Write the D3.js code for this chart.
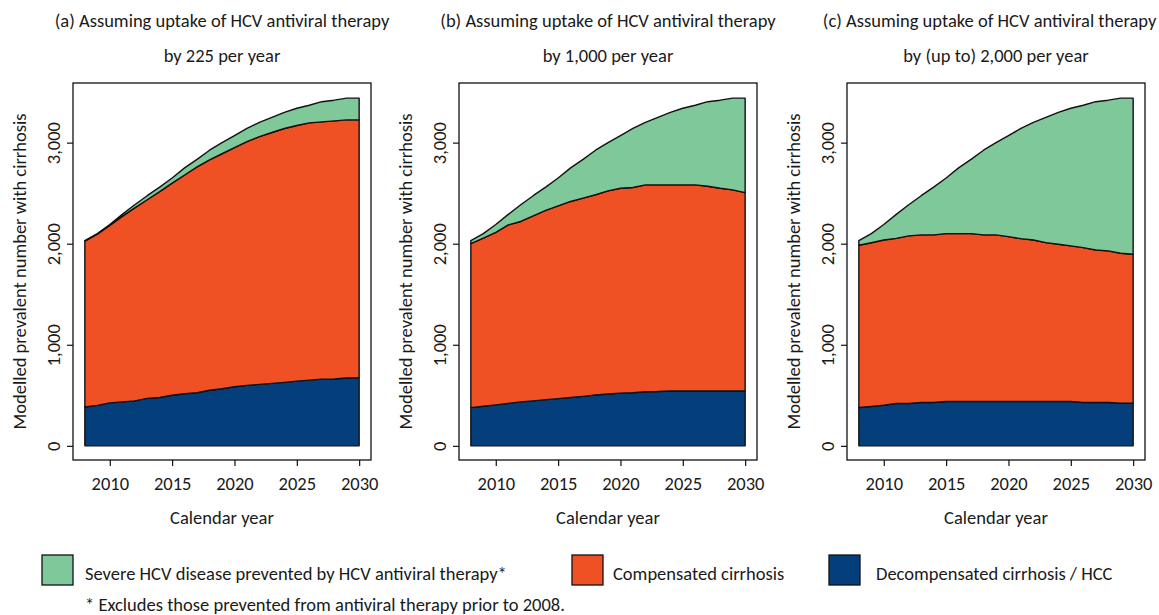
<!DOCTYPE html>
<html>
<head>
<meta charset="utf-8">
<script src="https://cdn.jsdelivr.net/npm/d3@7"></script>
<style>
  body { margin: 0; background: #fff; }
  svg text { font-family: Carlito, Lato, "Open Sans", sans-serif; fill: #1a1a1a; }
</style>
</head>
<body>
<svg width="1159" height="615"></svg>
<script>
(function (d3) {
  "use strict";

  const years = [2008, 2009, 2010, 2011, 2012, 2013, 2014, 2015, 2016, 2017, 2018, 2019,
    2020, 2021, 2022, 2023, 2024, 2025, 2026, 2027, 2028, 2029, 2030];

  const seriesNames = [
    "Decompensated cirrhosis / HCC",
    "Compensated cirrhosis",
    "Severe HCV disease prevented by HCV antiviral therapy*",
  ];
  const legendOrder = [2, 1, 0];
  const colours = ["#043f7b", "#ef5124", "#7fc899"];

  // (a) 225 per year
  const decompA = [385, 400, 425, 435, 445, 470, 478, 500, 515, 525, 550, 565, 585, 598, 608, 618, 628, 640, 650, 660, 662, 672, 675];
  const compA = [1640, 1695, 1755, 1835, 1910, 1965, 2037, 2100, 2165, 2235, 2280, 2325, 2365, 2412, 2452, 2482, 2512, 2530, 2545, 2545, 2553, 2553, 2550];
  const prevA = [5, 5, 10, 20, 30, 40, 45, 50, 70, 75, 95, 110, 120, 130, 140, 150, 160, 170, 175, 200, 205, 215, 215];

  // (b) 1,000 per year
  const decompB = [378, 392, 405, 420, 435, 445, 457, 467, 478, 490, 503, 513, 522, 525, 535, 537, 542, 543, 543, 543, 543, 543, 543];
  const compB = [1622, 1663, 1707, 1767, 1785, 1830, 1872, 1908, 1940, 1961, 1981, 2010, 2027, 2031, 2047, 2045, 2040, 2039, 2039, 2026, 2006, 1990, 1963];
  const prevB = [30, 45, 78, 103, 165, 200, 231, 275, 332, 384, 441, 477, 521, 584, 618, 668, 718, 758, 788, 836, 871, 907, 934];

  // (c) up to 2,000 per year
  const decompC = [379, 390, 402, 419, 419, 429, 429, 439, 439, 439, 439, 439, 439, 439, 439, 439, 439, 439, 429, 429, 429, 422, 422];
  const compC = [1606, 1620, 1635, 1634, 1658, 1658, 1658, 1661, 1661, 1661, 1648, 1648, 1631, 1611, 1598, 1572, 1555, 1539, 1532, 1509, 1500, 1483, 1474];
  const prevC = [45, 90, 153, 237, 308, 388, 473, 550, 650, 735, 838, 913, 1000, 1090, 1163, 1239, 1306, 1362, 1409, 1467, 1491, 1535, 1544];

  const titles = [
    ["(a) Assuming uptake of HCV antiviral therapy", "by 225 per year"],
    ["(b) Assuming uptake of HCV antiviral therapy", "by 1,000 per year"],
    ["(c) Assuming uptake of HCV antiviral therapy", "by (up to) 2,000 per year"],
  ];
  const panelSeries = [
    [decompA, compA, prevA],
    [decompB, compB, prevB],
    [decompC, compC, prevC],
  ];

  const yTicks = [0, 1000, 2000, 3000];
  const xTicks = [2010, 2015, 2020, 2025, 2030];
  const yTitle = "Modelled prevalent number with cirrhosis";
  const xTitle = "Calendar year";
  const footnote = "* Excludes those prevented from antiviral therapy prior to 2008.";

  const svg = d3.select("svg");
  const fontSize = "18.5px";

  const panelLefts = [73, 459, 847];
  const panelW = 298;
  const top = 83;
  const bottom = 460;

  const y = d3.scaleLinear().domain([-140, 3590]).range([bottom, top]);
  const fmt = d3.format(",");

  panelLefts.forEach((left, p) => {
    const x = d3.scaleLinear().domain([2007.05, 2030.95]).range([left, left + panelW]);
    const g = svg.append("g");

    const table = years.map((yr, i) => {
      const row = { year: yr };
      panelSeries[p].forEach((s, k) => (row[k] = s[i]));
      return row;
    });
    const stacked = d3.stack().keys([0, 1, 2])(table);

    const area = d3.area()
      .x((d) => x(d.data.year))
      .y0((d) => y(d[0]))
      .y1((d) => y(d[1]));

    g.selectAll("path.layer")
      .data(stacked)
      .enter()
      .append("path")
      .attr("class", "layer")
      .attr("d", area)
      .attr("fill", (d, i) => colours[i])
      .attr("stroke", "#111")
      .attr("stroke-width", 1.4)
      .attr("stroke-linejoin", "round");

    // plot region outline
    g.append("rect")
      .attr("x", left)
      .attr("y", top)
      .attr("width", panelW)
      .attr("height", bottom - top)
      .attr("fill", "none")
      .attr("stroke", "#111")
      .attr("stroke-width", 1.3);

    const yAxis = g.append("g")
      .attr("transform", `translate(${left},0)`)
      .call(d3.axisLeft(y).tickValues(yTicks).tickFormat(fmt).tickSize(6).tickSizeOuter(0));
    yAxis.select(".domain").remove();
    yAxis.selectAll("line").attr("stroke", "#111").attr("stroke-width", 1.2);
    yAxis.selectAll("text")
      .attr("transform", "translate(-19,0) rotate(-90)")
      .attr("x", 0)
      .attr("y", 0)
      .attr("dy", "0.35em")
      .attr("text-anchor", "middle")
      .style("font-size", fontSize);

    const xAxis = g.append("g")
      .attr("transform", `translate(0,${bottom})`)
      .call(d3.axisBottom(x).tickValues(xTicks).tickFormat(d3.format("d")).tickSize(6).tickSizeOuter(0));
    xAxis.select(".domain").remove();
    xAxis.selectAll("line").attr("stroke", "#111").attr("stroke-width", 1.2);
    xAxis.selectAll("text")
      .attr("y", 30)
      .attr("dy", null)
      .style("font-size", fontSize);

    svg.append("text")
      .attr("transform", `translate(${left - 53},${(top + bottom) / 2}) rotate(-90)`)
      .attr("text-anchor", "middle")
      .attr("dy", "0.35em")
      .style("font-size", fontSize)
      .text(yTitle);

    svg.append("text")
      .attr("x", left + panelW / 2)
      .attr("y", 524)
      .attr("text-anchor", "middle")
      .style("font-size", fontSize)
      .text(xTitle);

    titles[p].forEach((line, j) => {
      const t = svg.append("text")
        .attr("x", left + panelW / 2)
        .attr("y", 27 + j * 35)
        .attr("text-anchor", "middle")
        .style("font-size", fontSize)
        .text(line);
      // keep the title inside the page on the right
      const box = t.node().getBBox();
      const over = box.x + box.width - 1157;
      if (over > 0) t.attr("x", left + panelW / 2 - over);
    });
  });

  // legend
  const legendX = [42, 572, 829];
  const legend = svg.append("g").selectAll("g")
    .data(legendOrder)
    .enter()
    .append("g")
    .attr("transform", (d, i) => `translate(${legendX[i]},555)`);
  legend.append("rect")
    .attr("width", 31)
    .attr("height", 30)
    .attr("fill", (d) => colours[d])
    .attr("stroke", "#111")
    .attr("stroke-width", 1.3);
  legend.append("text")
    .attr("x", (d, i) => (i === 0 ? 43 : i === 1 ? 41 : 47))
    .attr("y", 25)
    .style("font-size", fontSize)
    .text((d) => seriesNames[d]);

  svg.append("text")
    .attr("x", 85)
    .attr("y", 611)
    .style("font-size", fontSize)
    .text(footnote);
})(d3);
</script>
</body>
</html>
